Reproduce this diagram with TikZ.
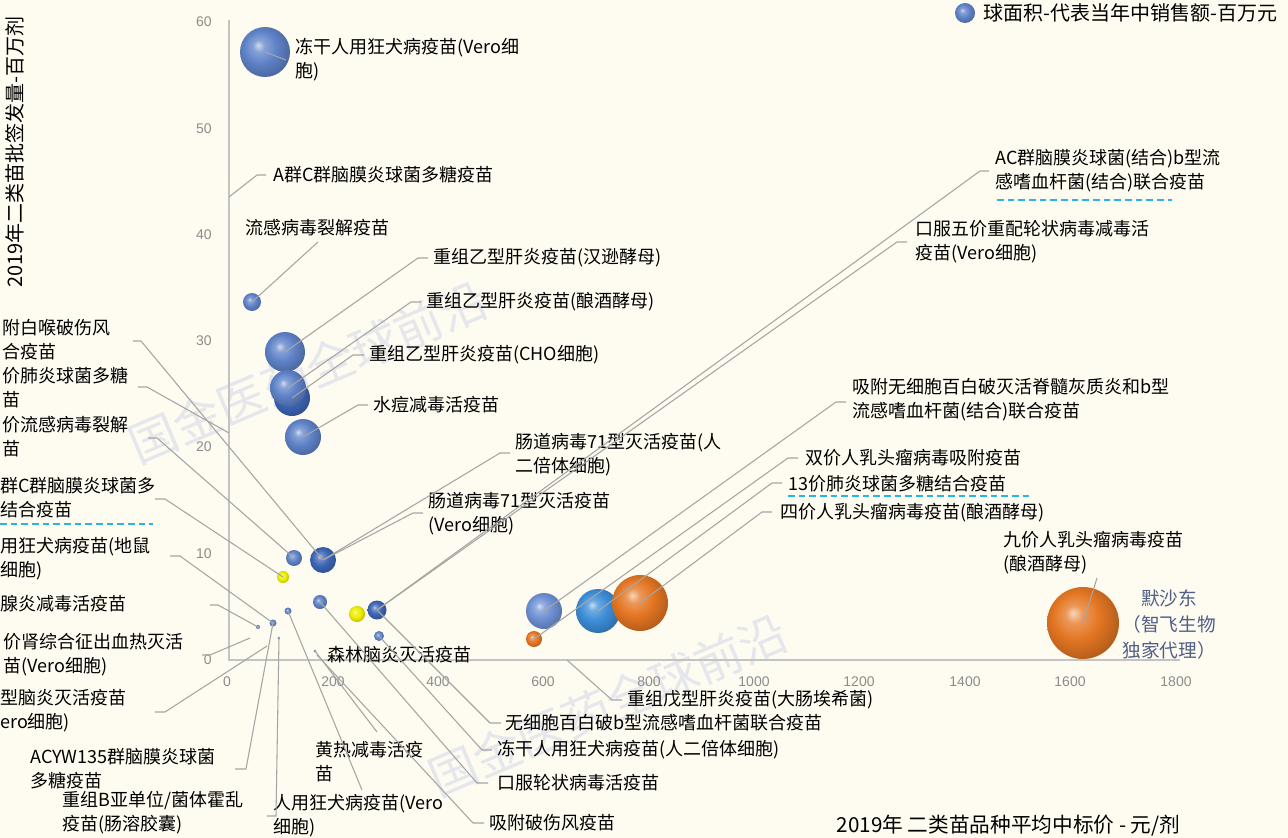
\documentclass[tikz,border=0pt]{standalone}
\usepackage{fontspec}
\setmainfont{Noto Sans CJK SC}
\newfontfamily\tickfont{Liberation Sans}
\usetikzlibrary{calc}

\definecolor{paper}{RGB}{254,251,240}
\definecolor{leadgray}{RGB}{165,165,165}
\definecolor{axisgray}{RGB}{195,195,195}
\definecolor{tickgray}{RGB}{140,140,140}
\definecolor{wmark}{RGB}{229,231,236}
\definecolor{dashcyan}{RGB}{40,180,235}
\definecolor{msdblue}{RGB}{80,95,135}
\definecolor{bblue}{RGB}{95,130,200}
\definecolor{bdark}{RGB}{60,100,180}
\definecolor{blight}{RGB}{110,145,212}
\definecolor{bsky}{RGB}{60,140,215}
\definecolor{borange}{RGB}{228,118,35}
\definecolor{byellow}{RGB}{238,238,0}
\colorlet{bubc}{bblue}
\pgfdeclareradialshading[bubc]{bubshade}{\pgfpoint{-7bp}{7bp}}{color(0bp)=(bubc!30!white); color(6bp)=(bubc!75!white); color(16bp)=(bubc); color(28bp)=(bubc!80!black); color(36bp)=(bubc!65!black); color(50bp)=(bubc!60!black)}
\newcommand{\ball}[3]{\colorlet{bubc}{#1}\shade[shading=bubshade] (#2) circle[radius=#3];}

\begin{document}
\begin{tikzpicture}[x=0.75pt, y=-0.75pt,
  lbl/.style={font=\fontsize{13.5}{18}\selectfont, inner sep=0pt, anchor=west, align=left},
  lead/.style={draw=leadgray, line width=0.8pt},
  ytick/.style={font=\tickfont\fontsize{10.5}{12}\selectfont, text=tickgray, anchor=east, inner sep=0pt},
  xtick/.style={font=\tickfont\fontsize{10.5}{12}\selectfont, text=tickgray, inner sep=0pt},
  wm/.style={font=\fontsize{36}{40}\selectfont, text=wmark, rotate=23},
  cyandash/.style={draw=dashcyan, line width=0.9pt, dash pattern=on 5pt off 3pt}]

\fill[paper] (0,0) rectangle (1288,838);
\useasboundingbox (0,0) rectangle (1288,838);

\node[wm] (wm1) at (308,372) {国金医药全球前沿};
\node[wm] (wm2) at (608,705) {国金医药全球前沿};

\coordinate (O) at (229,660);
\coordinate (ytop) at (229,20);
\coordinate (xend) at (1180,660);
\draw[axisgray, line width=1.1pt] (ytop) -- (O) -- (xend);
\foreach \v/\py in {0/660,10/554,20/447,30/341,40/235,50/129,60/22}
  \node[ytick] (yt\v) at (212,\py) {\v};
\foreach \v/\px in {0/227,200/333,400/438,600/543,800/649,1000/754,1200/859,1400/965,1600/1070,1800/1176}
  \node[xtick] (xt\v) at (\px,682) {\v};

\node[rotate=90, font=\fontsize{15}{18}\selectfont] (ytitle) at (15,152) {2019年二类苗批签发量-百万剂};
\node[anchor=east, font=\fontsize{15.5}{18}\selectfont] (xtitle) at (1185,826) {2019年 二类苗品种平均中标价 - 元/剂};

\coordinate (legb) at (965,13);
\ball{bblue}{legb}{10}
\node[lbl, font=\fontsize{15}{18}\selectfont] (legt) at (983,13) {球面积-代表当年中销售额-百万元};

\coordinate (vero) at (265,52);
\coordinate (menAC) at (229,197);
\coordinate (flu) at (252,302);
\coordinate (hbvH) at (285,352);
\coordinate (hbvS) at (288,388);
\coordinate (hbvC) at (292,398);
\coordinate (vzv) at (303,437);
\coordinate (ppv) at (229,433);
\coordinate (fluQ) at (294,558);
\coordinate (ev) at (323,560);
\coordinate (menc) at (283,577);
\coordinate (rota) at (320,602);
\coordinate (rabV) at (288,611);
\coordinate (yel) at (357,614);
\coordinate (dtap) at (377,610);
\coordinate (rabH) at (379,636);
\coordinate (rabK) at (273,623);
\coordinate (mumps) at (258,627);
\coordinate (chol) at (279,638);
\coordinate (yf) at (315,651);
\coordinate (tt) at (317,655);
\coordinate (hfrs) at (250,638);
\coordinate (je) at (267,646);
\coordinate (hev) at (567,660);
\coordinate (penta) at (544,611);
\coordinate (hpv2) at (534,639);
\coordinate (pcv) at (598,611);
\coordinate (hpv4) at (640,603);
\coordinate (hpv9) at (1083,623);

\ball{bblue}{vero}{25}
\ball{bblue}{flu}{9}
\ball{bblue}{hbvH}{20}
\ball{bdark}{hbvC}{18}
\ball{bblue}{hbvS}{18}
\ball{bblue}{vzv}{18}
\ball{bblue}{fluQ}{8}
\ball{bdark}{ev}{13}
\ball{byellow}{menc}{6}
\ball{bblue}{rota}{7}
\ball{bblue}{rabV}{3.5}
\ball{byellow}{yel}{8}
\ball{bdark}{dtap}{9.5}
\ball{bblue}{rabH}{5}
\ball{bblue}{rabK}{3.5}
\ball{bblue}{mumps}{2}
\ball{bblue}{chol}{1.5}
\ball{bblue}{yf}{1.5}
\ball{blight}{penta}{18}
\ball{borange}{hpv2}{8}
\ball{bsky}{pcv}{22}
\ball{borange}{hpv4}{28}
\ball{borange}{hpv9}{36}

\node[lbl] (lvero) at (295,60) {冻干人用狂犬病疫苗(Vero细\\胞)};
\node[lbl] (lmenAC) at (273,175) {A群C群脑膜炎球菌多糖疫苗};
\node[lbl] (lflu) at (245,228) {流感病毒裂解疫苗};
\node[lbl] (lhbvH) at (433,258) {重组乙型肝炎疫苗(汉逊酵母)};
\node[lbl] (lhbvS) at (426,302) {重组乙型肝炎疫苗(酿酒酵母)};
\node[lbl] (lhbvC) at (369,355) {重组乙型肝炎疫苗(CHO细胞)};
\node[lbl] (lvzv) at (373,405) {水痘减毒活疫苗};
\node[lbl] (lev1) at (515,455) {肠道病毒71型灭活疫苗(人\\二倍体细胞)};
\node[lbl] (lev2) at (428,514) {肠道病毒71型灭活疫苗\\(Vero细胞)};
\node[lbl] (lrota5) at (915,242) {口服五价重配轮状病毒减毒活\\疫苗(Vero细胞)};
\node[lbl] (lachib) at (995,171) {AC群脑膜炎球菌(结合)b型流\\感嗜血杆菌(结合)联合疫苗};
\node[lbl] (lpenta) at (852,400) {吸附无细胞百白破灭活脊髓灰质炎和b型\\流感嗜血杆菌(结合)联合疫苗};
\node[lbl] (lhpv2) at (805,458) {双价人乳头瘤病毒吸附疫苗};
\node[lbl] (lpcv) at (788,484) {13价肺炎球菌多糖结合疫苗};
\node[lbl] (lhpv4) at (780,513) {四价人乳头瘤病毒疫苗(酿酒酵母)};
\node[lbl] (lhpv9) at (1003,553) {九价人乳头瘤病毒疫苗\\(酿酒酵母)};
\node[font=\fontsize{14}{19.5}\selectfont, text=msdblue, align=center, inner sep=0pt] (lmsd) at (1169,624) {默沙东\\（智飞生物\\独家代理）};

\node[lbl] (ldtp) at (2,340) {附白喉破伤风\\合疫苗};
\node[lbl] (lppv) at (2,388) {价肺炎球菌多糖\\苗};
\node[lbl] (lfluQ) at (2,437) {价流感病毒裂解\\苗};
\node[lbl] (lmenc) at (0,498) {群C群脑膜炎球菌多\\结合疫苗};
\node[lbl] (lrabK) at (0,559) {用狂犬病疫苗(地鼠\\细胞)};
\node[lbl] (lmumps) at (0,604) {腺炎减毒活疫苗};
\node[lbl] (lhfrs) at (3,655) {价肾综合征出血热灭活\\苗(Vero细胞)};
\node[lbl] (lje) at (0,711) {型脑炎灭活疫苗\\ero细胞)};
\node[lbl] (lacyw) at (30,769) {ACYW135群脑膜炎球菌\\多糖疫苗};
\node[lbl] (lchol) at (62,813) {重组B亚单位/菌体霍乱\\疫苗(肠溶胶囊)};
\node[lbl] (lrabV) at (273,816) {人用狂犬病疫苗(Vero\\细胞)};
\node[lbl] (lyf) at (315,762) {黄热减毒活疫\\苗};
\node[lbl] (ltbe) at (327,655) {森林脑炎灭活疫苗};
\node[lbl] (lhev) at (627,700) {重组戊型肝炎疫苗(大肠埃希菌)};
\node[lbl] (ldtaphib) at (505,723) {无细胞百白破b型流感嗜血杆菌联合疫苗};
\node[lbl] (lrabH) at (497,750) {冻干人用狂犬病疫苗(人二倍体细胞)};
\node[lbl] (lrota) at (497,783) {口服轮状病毒活疫苗};
\node[lbl] (ltt) at (489,823) {吸附破伤风疫苗};

\draw[cyandash] (0,524) -- (153,524);
\draw[cyandash] (997,200) -- (1172,200);
\draw[cyandash] (788,496) -- (1030,496);

\draw[lead] (vero) -- (286,60);
\draw[lead] (menAC) -- (257,175) -- (266,175);
\draw[lead] (flu) -- (318,242);
\draw[lead] (hbvH) -- (418,258) -- (428,258);
\draw[lead] (hbvS) -- (411,302) -- (421,302);
\draw[lead] (hbvC) -- (353,355) -- (364,355);
\draw[lead] (vzv) -- (358,405) -- (368,405);
\draw[lead] (ev) -- (500,453) -- (510,453);
\draw[lead] (ev) -- (413,513) -- (423,513);
\draw[lead] (dtap) -- (980,171) -- (989,171);
\draw[lead] (dtap) -- (897,242) -- (907,242);
\draw[lead] (penta) -- (836,402) -- (846,402);
\draw[lead] (hpv2) -- (788,458) -- (798,458);
\draw[lead] (pcv) -- (772,483) -- (782,483);
\draw[lead] (hpv4) -- (762,512) -- (772,512);
\draw[lead] (hpv9) -- (1097,578);

\draw[lead] (ev) -- (141,341) -- (133,341);
\draw[lead] (ppv) -- (147,387) -- (138,387);
\draw[lead] (fluQ) -- (157,438) -- (148,438);
\draw[lead] (menc) -- (165,499) -- (155,499);
\draw[lead] (rabK) -- (180,556) -- (170,556);
\draw[lead] (mumps) -- (218,605) -- (210,605);
\draw[lead] (hfrs) -- (210,655) -- (202,655);
\draw[lead] (je) -- (165,712) -- (155,712);
\draw[lead] (rabK) -- (246,769) -- (235,769);
\draw[lead] (chol) -- (276,816) -- (267,816);
\draw[lead] (rabV) -- (362,790);
\draw[lead] (yf) -- (377,732);
\draw[lead] (tt) -- (473,823) -- (484,823);
\draw[lead] (rota) -- (477,783) -- (488,783);
\draw[lead] (rabH) -- (482,750) -- (492,750);
\draw[lead] (dtap) -- (490,723) -- (501,723);
\draw[lead] (hev) -- (612,700) -- (622,700);
\end{tikzpicture}
\end{document}
